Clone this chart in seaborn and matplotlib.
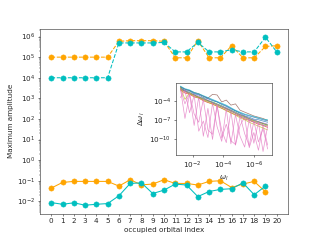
import numpy as np
import matplotlib
matplotlib.use("Agg")
import matplotlib.pyplot as plt
import seaborn as sns

# main panel data
orbital_index = list(range(21))
amp_orange_high = [1e5, 1e5, 1e5, 1e5, 1e5, 1e5, 5.9e5, 6.3e5, 6.3e5, 6.3e5, 5.9e5,
                   9.3e4, 9.3e4, 6.3e5, 9.3e4, 9.3e4, 3.6e5, 9.3e4, 9.3e4, 3.3e5, 3.6e5]
amp_cyan_high = [1e4, 1e4, 1e4, 1e4, 1e4, 1e4, 4.9e5, 4.9e5, 4.9e5, 4.9e5, 5.2e5,
                 1.8e5, 1.8e5, 5.2e5, 1.8e5, 1.8e5, 2.3e5, 1.8e5, 1.8e5, 9.3e5, 1.8e5]
amp_orange_low = [0.044, 0.083, 0.093, 0.093, 0.093, 0.093, 0.055, 0.112, 0.063, 0.069,
                  0.112, 0.074, 0.074, 0.062, 0.093, 0.1, 0.047, 0.069, 0.093, 0.029]
amp_cyan_low = [0.0087, 0.0072, 0.0085, 0.0065, 0.0072, 0.0078, 0.0186, 0.074, 0.079, 0.024,
                0.035, 0.069, 0.062, 0.017, 0.030, 0.038, 0.041, 0.079, 0.021, 0.055]

# inset data (log10 values)
log_omega = [-1.2, -1.5, -1.8, -2.1, -2.4, -2.7, -3.0, -3.3, -3.6, -3.9,
             -4.2, -4.5, -4.8, -5.1, -5.4, -5.7, -6.0, -6.3, -6.6, -6.9]
dw_blue = [-1.9, -2.4, -2.5, -2.9, -3.1, -3.5, -3.7, -4.0, -4.2, -4.6,
           -4.9, -5.3, -5.6, -6.0, -6.4, -6.6, -6.9, -7.0, -7.2, -7.4]
dw_orange = [-2.2, -2.6, -2.9, -3.2, -3.4, -3.8, -4.0, -4.4, -4.6, -5.0,
             -5.3, -5.6, -6.0, -6.3, -6.6, -6.9, -7.2, -7.4, -7.6, -7.9]
dw_green = [-2.0, -2.5, -2.7, -3.1, -3.5, -3.6, -4.0, -4.2, -4.5, -4.8,
            -5.2, -5.5, -5.8, -6.2, -6.5, -6.8, -7.1, -7.3, -7.6, -7.8]
dw_red = [-2.3, -2.8, -3.0, -3.4, -3.6, -4.0, -4.3, -4.5, -4.9, -5.2,
          -5.5, -5.9, -6.2, -6.5, -6.9, -7.1, -7.4, -7.7, -7.9, -8.2]
dw_purple = [-2.1, -2.4, -2.8, -3.0, -3.3, -3.7, -3.9, -4.3, -4.6, -4.9,
             -5.1, -5.5, -5.9, -6.2, -6.4, -6.8, -7.0, -7.3, -7.5, -7.7]
dw_brown = [-1.8, -2.2, -2.4, -2.7, -2.9, -3.3, -3.6, -3.0, -3.1, -4.2,
            -3.9, -4.7, -4.5, -5.5, -5.8, -6.1, -6.4, -6.6, -6.8, -7.1]
dw_pink = [-2.0, -6.8, -3.0, -7.9, -3.4, -9.6, -5.2, -10.1, -4.8, -8.7,
           -10.6, -5.6, -11.0, -7.9, -6.6, -11.4, -9.0, -11.8, -7.8, -11.0]
dw_gray = [-2.2, -2.5, -2.9, -3.1, -3.5, -3.8, -4.1, -4.3, -4.7, -5.0,
           -5.3, -5.7, -6.0, -6.4, -6.7, -7.0, -7.3, -7.5, -7.8, -8.0]
dw_olive = [-1.9, -3.8, -2.8, -3.3, -3.5, -3.9, -4.2, -4.6, -4.8, -5.2,
            -5.6, -5.9, -6.3, -6.7, -7.0, -7.4, -7.7, -8.0, -8.3, -8.6]
dw_cyan = [-1.7, -2.1, -2.3, -2.7, -2.9, -3.2, -3.5, -3.8, -4.1, -4.4,
           -4.7, -5.1, -5.5, -5.8, -6.1, -6.3, -6.5, -6.7, -6.9, -7.0]
dw_pink2 = [-3.5, -2.4, -5.9, -3.1, -8.8, -7.2, -9.8, -4.4, -8.1, -10.4,
            -5.3, -10.8, -6.2, -9.6, -11.3, -6.9, -10.7, -7.4, -12.0, -8.0]
dw_pink3 = [-2.2, -4.5, -2.9, -6.1, -7.4, -3.8, -8.6, -9.3, -4.6, -9.9,
            -7.7, -10.3, -10.9, -6.4, -9.2, -11.1, -7.2, -10.5, -8.4, -11.6]
dw_blue2 = [-1.8, -2.2, -2.4, -2.8, -3.0, -3.3, -3.6, -3.9, -4.2, -4.5,
            -4.8, -5.2, -5.6, -5.9, -6.2, -6.4, -6.6, -6.8, -7.0, -7.2]

inset_lines = [dw_blue, dw_orange, dw_green, dw_red, dw_purple, dw_brown, dw_pink,
               dw_gray, dw_olive, dw_cyan, dw_pink2, dw_pink3, dw_blue2]
inset_colors = ['tab:blue', 'tab:orange', 'tab:green', 'tab:red', 'tab:purple', 'tab:brown',
                'tab:pink', 'tab:gray', 'tab:olive', 'tab:cyan', 'tab:pink', 'tab:pink',
                'tab:blue']

sns.set_style("ticks")
plt.rcParams['font.family'] = ['DejaVu Sans']
fs = 10.5

fig, ax = plt.subplots(figsize=(6.4, 4.8), dpi=50)

orange = 'orange'
cyan = 'c'
sns.lineplot(x=orbital_index, y=amp_orange_high, ax=ax, color=orange, marker='o',
             linestyle='--', markersize=7.5, markeredgecolor=orange)
sns.lineplot(x=orbital_index[:20], y=amp_orange_low, ax=ax, color=orange, marker='o',
             markersize=7.5, markeredgecolor=orange)
sns.lineplot(x=orbital_index, y=amp_cyan_high, ax=ax, color=cyan, marker='o',
             linestyle='--', markersize=7.5, markeredgecolor=cyan)
sns.lineplot(x=orbital_index[:20], y=amp_cyan_low, ax=ax, color=cyan, marker='o',
             markersize=7.5, markeredgecolor=cyan)
ax.set_yscale('log')
ax.set_xticks(orbital_index)
ax.tick_params(labelsize=fs)
ax.set_xlabel('occupied orbital index', fontsize=fs)
ax.set_ylabel('Maximum amplitude', fontsize=fs)

# inset with frequency spacing
axin = fig.add_axes([0.55, 0.355, 0.30, 0.30])
omega = 10 ** np.array(log_omega)
for vals, col in zip(inset_lines, inset_colors):
    sns.lineplot(x=omega, y=10 ** np.array(vals), ax=axin, color=col, linewidth=1, alpha=0.8)
axin.set_xscale('log')
axin.set_yscale('log')
axin.invert_xaxis()
axin.set_xticks([1e-2, 1e-4, 1e-6])
axin.set_yticks([1e-4, 1e-7, 1e-10])
axin.tick_params(labelsize=fs)
axin.set_xlabel(r'$\omega_l$', fontsize=fs)
axin.set_ylabel(r'$\Delta\omega_l$', fontsize=fs)

fig.savefig('out.png', dpi=50)
